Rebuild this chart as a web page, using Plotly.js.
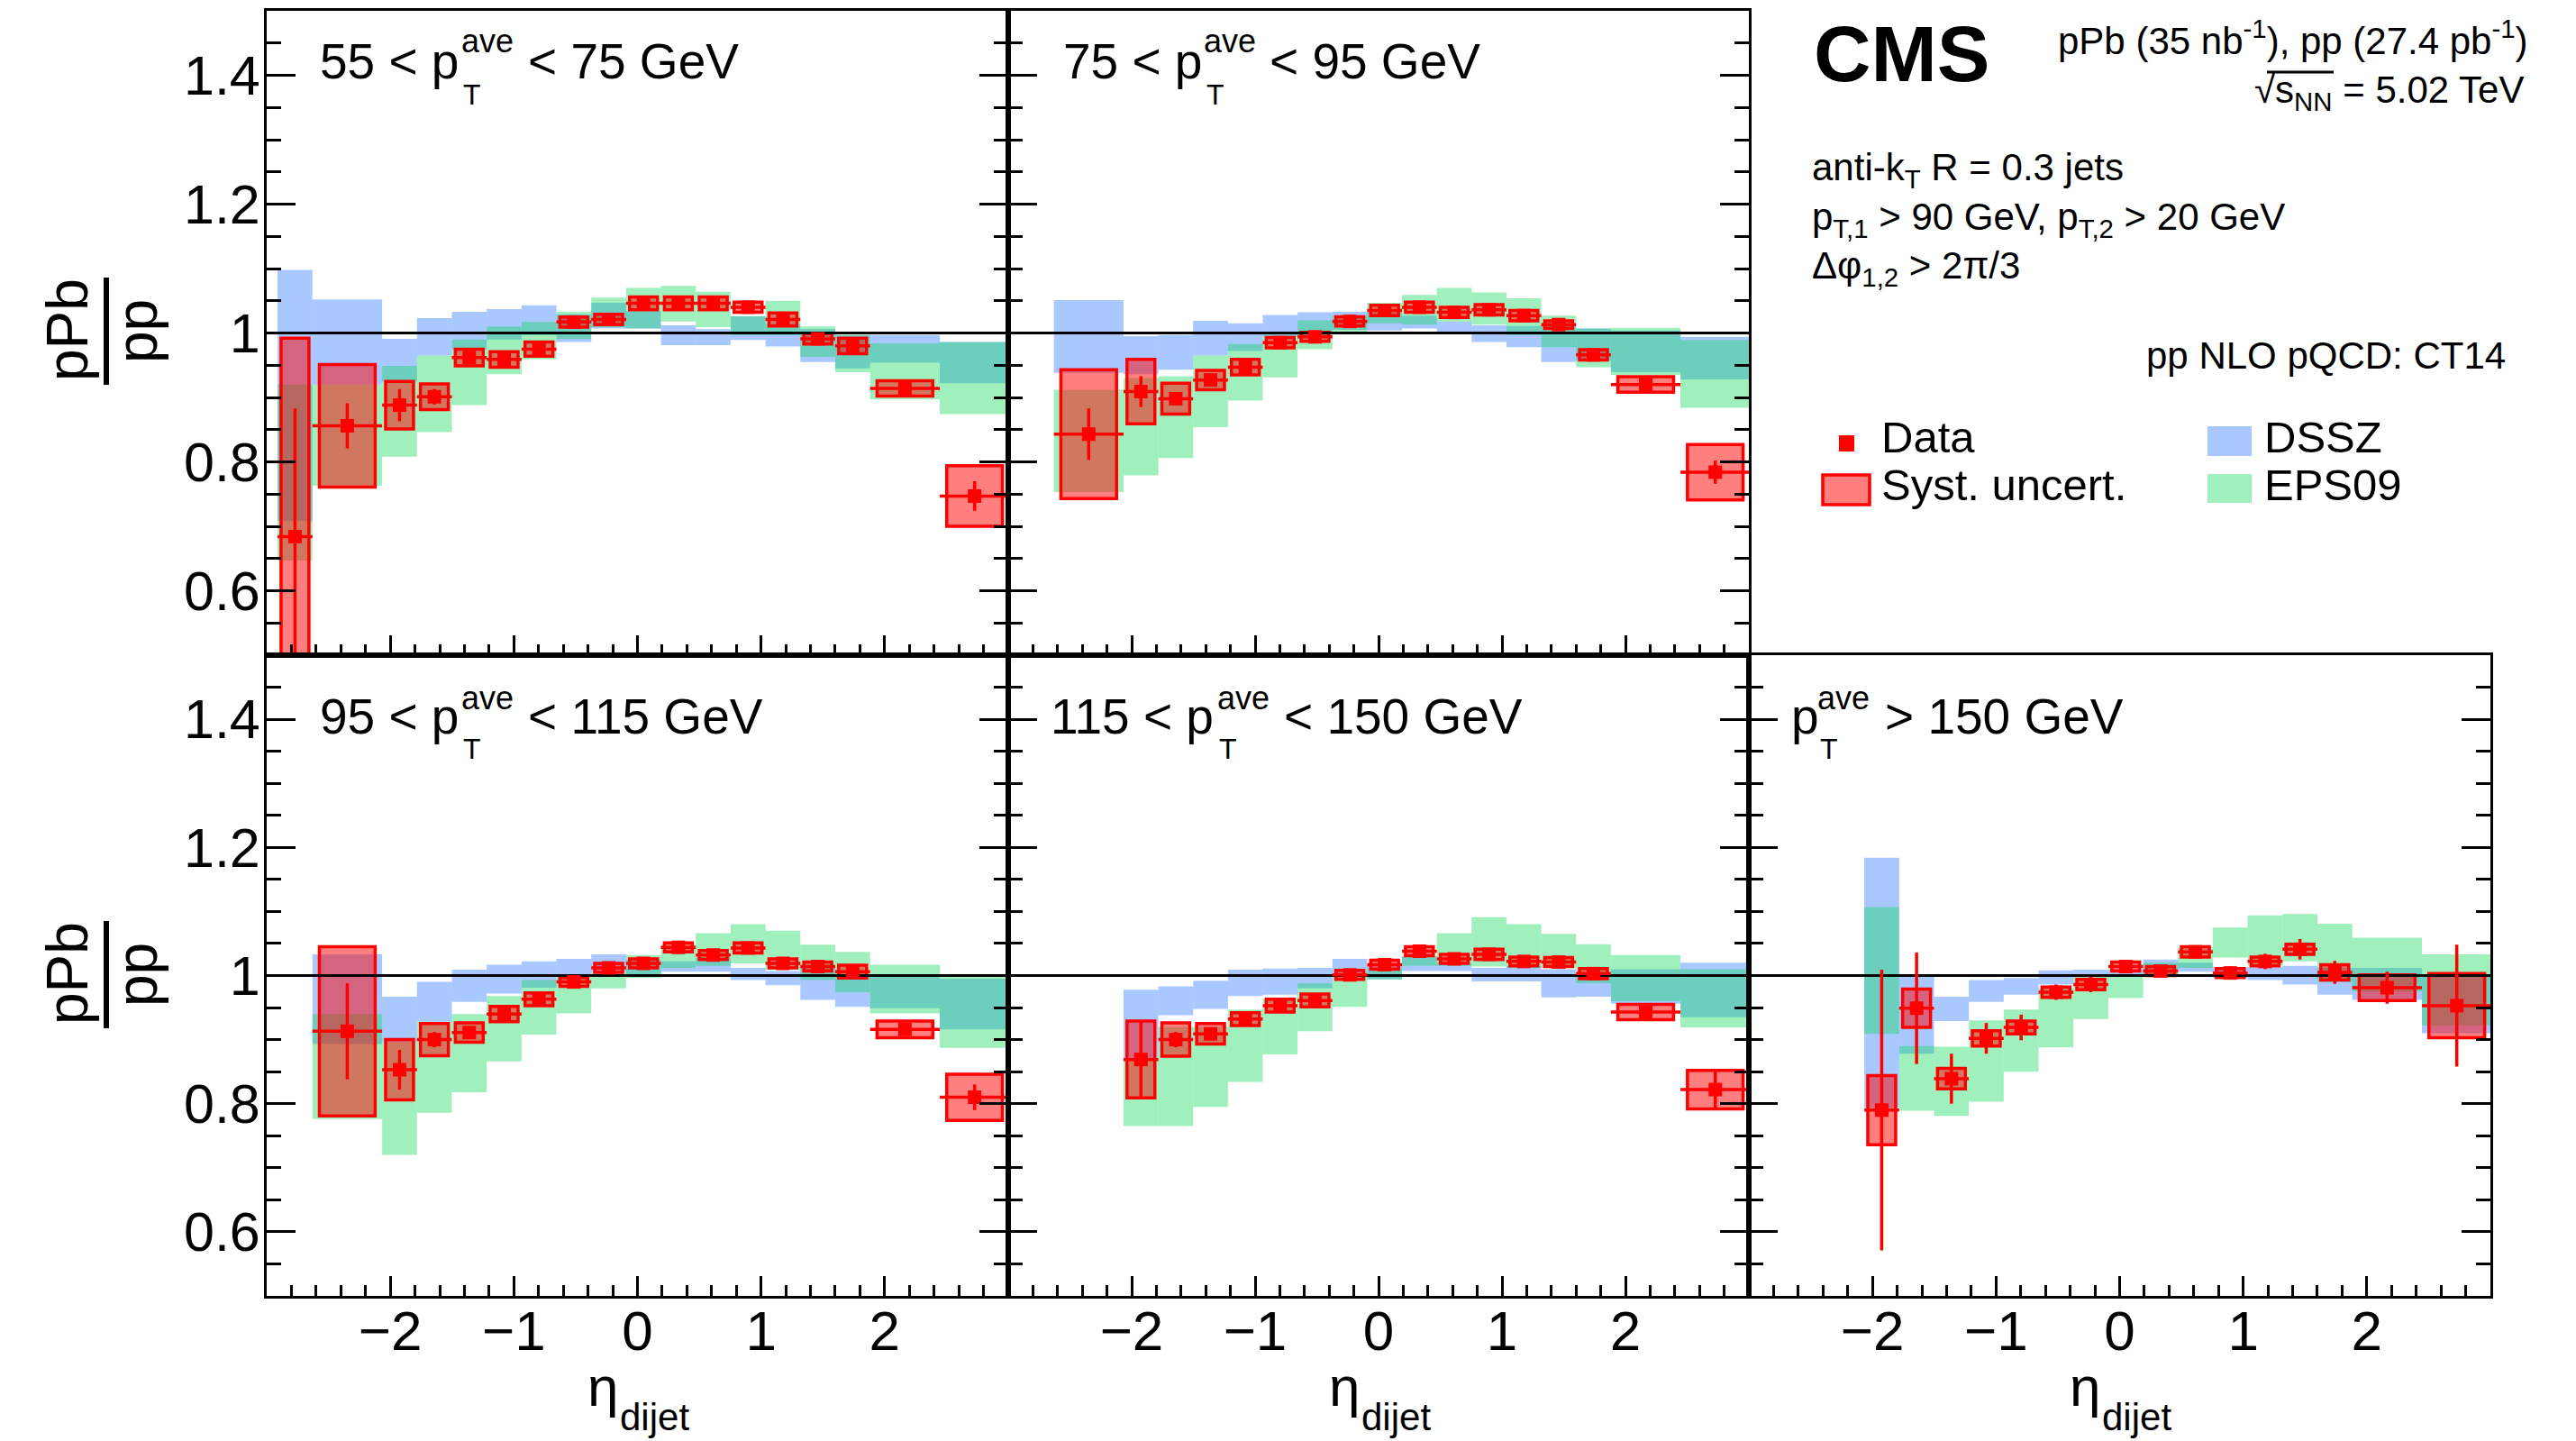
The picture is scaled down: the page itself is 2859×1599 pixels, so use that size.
<!DOCTYPE html>
<html><head><meta charset="utf-8">
<script src="https://cdn.plot.ly/plotly-3.0.1.min.js"></script>
<style>body{margin:0;background:#fff}#chart{width:2859px;height:1599px}</style>
</head><body><div id="chart"></div>
<script>
// ---------------- DATA ----------------
const etaEdges = [-2.912,-2.630,-2.066,-1.784,-1.502,-1.220,-0.938,-0.656,-0.374,-0.092,0.190,0.472,0.754,1.036,1.318,1.600,1.882,2.446,3.010];

const panelLabels = ["55 < p", "75 < p", "95 < p", "115 < p", "p"];
const panelLabelTails = ["< 75 GeV", "< 95 GeV", "< 115 GeV", "< 150 GeV", "> 150 GeV"];
const panelFirstBin = [0, 1, 1, 2, 2];

// 55 < pT < 75
const p1Ratio  = [0.684,0.856,0.888,0.901,0.962,0.959,0.975,1.017,1.021,1.046,1.046,1.046,1.040,1.021,0.991,0.980,0.914,0.747];
const p1Stat   = [0.199,0.035,0.025,0.012,0.008,0.008,0.007,0.006,0.006,0.006,0.006,0.006,0.006,0.006,0.006,0.008,0.007,0.023];
const p1Syst   = [0.308,0.095,0.037,0.020,0.013,0.012,0.011,0.008,0.008,0.010,0.010,0.010,0.008,0.010,0.008,0.012,0.012,0.047];
const p1DsszLo = [0.708,0.920,0.925,0.965,0.975,0.990,0.997,0.986,1.007,1.007,0.981,0.981,0.989,0.979,0.955,0.945,0.954,0.922];
const p1DsszHi = [1.098,1.052,0.991,1.023,1.033,1.037,1.043,1.029,1.047,1.034,1.012,1.006,1.026,1.014,1.006,0.997,0.997,0.986];
const p1EpsLo  = [0.647,0.763,0.808,0.846,0.888,0.936,0.959,0.991,1.009,1.007,1.018,1.009,0.997,0.997,0.963,0.939,0.897,0.874];
const p1EpsHi  = [0.920,0.920,0.949,0.965,0.990,1.010,1.017,1.033,1.055,1.070,1.073,1.064,1.026,1.050,1.010,0.997,0.984,0.986];

// 75 < pT < 95
const p2Ratio  = [0.843,0.909,0.898,0.927,0.947,0.985,0.994,1.018,1.035,1.040,1.032,1.036,1.027,1.013,0.966,0.920,0.784];
const p2Stat   = [0.040,0.024,0.010,0.008,0.007,0.006,0.006,0.006,0.006,0.006,0.006,0.006,0.006,0.006,0.006,0.006,0.018];
const p2Syst   = [0.100,0.050,0.024,0.015,0.012,0.008,0.007,0.007,0.008,0.008,0.008,0.008,0.008,0.006,0.008,0.012,0.043];
const p2DsszLo = [0.938,0.936,0.943,0.965,0.972,0.995,0.997,1.005,1.004,1.007,1.000,0.986,0.978,0.955,0.957,0.939,0.928];
const p2DsszHi = [1.051,0.995,0.997,1.019,1.015,1.028,1.032,1.033,1.032,1.027,1.018,1.012,1.011,1.011,1.007,1.004,0.994];
const p2EpsLo  = [0.753,0.779,0.806,0.854,0.895,0.931,0.975,1.000,1.015,1.013,1.018,1.013,0.997,0.978,0.947,0.935,0.884];
const p2EpsHi  = [0.912,0.930,0.933,0.965,0.983,0.997,1.020,1.027,1.047,1.059,1.070,1.063,1.054,1.027,1.007,1.008,0.989];

// 95 < pT < 115
const p3Ratio  = [0.913,0.853,0.900,0.911,0.940,0.963,0.990,1.012,1.019,1.044,1.032,1.043,1.019,1.014,1.006,0.916,0.810];
const p3Stat   = [0.075,0.031,0.012,0.008,0.007,0.007,0.006,0.006,0.006,0.006,0.006,0.006,0.006,0.006,0.006,0.006,0.020];
const p3Syst   = [0.132,0.047,0.025,0.015,0.012,0.010,0.007,0.007,0.007,0.007,0.007,0.008,0.007,0.007,0.010,0.013,0.036];
const p3DsszLo = [0.893,0.896,0.928,0.959,0.972,0.981,1.000,1.006,1.000,1.006,1.006,0.993,0.985,0.962,0.951,0.949,0.916];
const p3DsszHi = [1.033,0.967,0.990,1.009,1.017,1.022,1.026,1.033,1.025,1.022,1.028,1.012,1.007,1.012,0.998,1.000,0.995];
const p3EpsLo  = [0.776,0.720,0.786,0.818,0.866,0.908,0.941,0.980,0.996,1.012,1.015,1.019,1.009,0.993,0.974,0.941,0.887];
const p3EpsHi  = [0.940,0.896,0.928,0.940,0.968,0.993,1.000,1.006,1.032,1.048,1.066,1.080,1.070,1.048,1.037,1.017,0.998];

// 115 < pT < 150
const p4Ratio  = [0.869,0.900,0.909,0.932,0.953,0.961,1.001,1.017,1.038,1.026,1.033,1.022,1.021,1.003,0.943,0.822];
const p4Stat   = [0.060,0.012,0.010,0.008,0.007,0.007,0.006,0.006,0.006,0.006,0.006,0.006,0.006,0.006,0.006,0.030];
const p4Syst   = [0.060,0.026,0.016,0.010,0.010,0.010,0.007,0.007,0.007,0.007,0.008,0.007,0.007,0.008,0.012,0.030];
const p4DsszLo = [0.870,0.938,0.948,0.968,0.970,0.980,1.000,0.994,1.007,1.007,0.991,0.991,0.966,0.967,0.956,0.935];
const p4DsszHi = [0.978,0.983,0.992,1.009,1.011,1.012,1.026,1.015,1.030,1.020,1.012,1.015,1.010,1.000,1.010,1.020];
const p4EpsLo  = [0.765,0.765,0.795,0.834,0.877,0.913,0.951,0.994,1.015,1.015,1.014,1.012,1.012,0.988,0.960,0.919];
const p4EpsHi  = [0.870,0.920,0.920,0.947,0.964,0.988,1.000,1.012,1.030,1.066,1.091,1.080,1.065,1.049,1.032,1.010];

// pT > 150
const p5Ratio  = [0.790,0.949,0.839,0.902,0.919,0.974,0.986,1.014,1.007,1.037,1.004,1.022,1.041,1.005,0.981,0.953];
const p5Stat   = [0.219,0.087,0.039,0.024,0.020,0.012,0.012,0.010,0.010,0.010,0.010,0.012,0.016,0.018,0.025,0.095];
const p5Syst   = [0.054,0.030,0.016,0.012,0.010,0.008,0.008,0.007,0.007,0.008,0.007,0.007,0.008,0.012,0.020,0.050];
const p5DsszLo = [0.794,0.878,0.929,0.959,0.970,0.986,0.999,1.000,1.000,1.006,0.996,0.993,0.986,0.970,0.962,0.910];
const p5DsszHi = [1.184,1.000,0.967,0.993,0.996,1.008,1.009,1.010,1.025,1.020,1.013,1.013,1.015,1.012,1.012,1.000];
const p5EpsLo  = [0.909,0.789,0.781,0.803,0.850,0.888,0.932,0.965,1.000,1.012,1.028,1.015,1.022,0.990,0.975,0.922];
const p5EpsHi  = [1.107,0.890,0.889,0.930,0.947,0.980,0.999,1.000,1.020,1.044,1.075,1.094,1.096,1.081,1.059,1.033];

const yTickVals = [0.6, 0.8, 1, 1.2, 1.4];
const xTickVals = [-2, -1, 0, 1, 2];

// ---------------- STYLE ----------------
const W = 2859, H = 1599;
const FONT = 'Liberation Sans, Arial, Helvetica, sans-serif';
const DSSZ_COL = 'rgba(40,118,255,0.4)';
const EPS_COL = 'rgba(18,217,92,0.4)';
const SYST_COL = 'rgba(255,0,0,0.5)';
const px = v => v / W;
const py = v => 1 - v / H;

const xDom = [[296/W, 1119/W], [1119/W, 1941/W], [1941/W, 2764/W]];
const yTop = [1 - 727/H, 1 - 12/H];
const yBot = [1 - 1438/H, 1 - 727/H];

const panels = [
  {ratio:p1Ratio, stat:p1Stat, syst:p1Syst, dLo:p1DsszLo, dHi:p1DsszHi, eLo:p1EpsLo, eHi:p1EpsHi},
  {ratio:p2Ratio, stat:p2Stat, syst:p2Syst, dLo:p2DsszLo, dHi:p2DsszHi, eLo:p2EpsLo, eHi:p2EpsHi},
  {ratio:p3Ratio, stat:p3Stat, syst:p3Syst, dLo:p3DsszLo, dHi:p3DsszHi, eLo:p3EpsLo, eHi:p3EpsHi},
  {ratio:p4Ratio, stat:p4Stat, syst:p4Syst, dLo:p4DsszLo, dHi:p4DsszHi, eLo:p4EpsLo, eHi:p4EpsHi},
  {ratio:p5Ratio, stat:p5Stat, syst:p5Syst, dLo:p5DsszLo, dHi:p5DsszHi, eLo:p5EpsLo, eHi:p5EpsHi}
];

const traces = [];
panels.forEach((p, k) => {
  const idx = k + 1;
  const xa = 'x' + (idx === 1 ? '' : idx), ya = 'y' + (idx === 1 ? '' : idx);
  const fb = panelFirstBin[k];
  const centers = [], widths = [], half = [], boxW = [];
  for (let i = 0; i < p.ratio.length; i++) {
    const a = etaEdges[fb + i], b = etaEdges[fb + i + 1];
    centers.push((a + b) / 2); widths.push(b - a); half.push((b - a) / 2); boxW.push(0.8 * (b - a));
  }
  const common = {xaxis: xa, yaxis: ya, showlegend: false, hoverinfo: 'skip'};
  traces.push(Object.assign({type:'bar', x:centers, base:p.dLo, y:p.dHi.map((h,i)=>h-p.dLo[i]), width:widths,
    marker:{color:DSSZ_COL, line:{width:0}}}, common));
  traces.push(Object.assign({type:'bar', x:centers, base:p.eLo, y:p.eHi.map((h,i)=>h-p.eLo[i]), width:widths,
    marker:{color:EPS_COL, line:{width:0}}}, common));
  traces.push(Object.assign({type:'bar', x:centers, base:p.ratio.map((r,i)=>r-p.syst[i]), y:p.syst.map(s=>2*s), width:boxW,
    marker:{color:SYST_COL, line:{width:3.5, color:'#ff0000'}}}, common));
  traces.push(Object.assign({type:'scatter', mode:'lines', x:[-3, 3], y:[1, 1], line:{color:'black', width:3}}, common));
  traces.push(Object.assign({type:'scatter', mode:'markers', x:centers, y:p.ratio,
    marker:{symbol:'square', size:15, color:'#ff0000', line:{width:0}},
    error_y:{type:'data', array:p.stat, visible:true, width:0, thickness:3.5, color:'#ff0000'},
    error_x:{type:'data', array:half, visible:true, width:0, thickness:3.5, color:'#ff0000'}}, common));
});

function xAxis(dom, anchor, labels) {
  return {domain:dom, anchor:anchor, range:[-3,3], tickmode:'array', tickvals:xTickVals,
    ticks:'inside', ticklen:22, tickwidth:3, tickcolor:'black',
    showticklabels:labels, tickfont:{size:62, family:FONT, color:'black'}, ticklabelstandoff:-17,
    showline:true, linewidth:3, linecolor:'black', mirror:true, showgrid:false, zeroline:false, fixedrange:true,
    minor:{tickmode:'linear', tick0:-3, dtick:0.2, ticks:'inside', ticklen:12, tickwidth:3, tickcolor:'black', showgrid:false}};
}
function yAxis(dom, anchor, labels) {
  return {domain:dom, anchor:anchor, range:[0.5,1.5], tickmode:'array', tickvals:yTickVals,
    ticks:'inside', ticklen:32, tickwidth:3, tickcolor:'black',
    showticklabels:labels, tickfont:{size:61, family:FONT, color:'black'}, ticklabelstandoff:-8,
    showline:true, linewidth:3, linecolor:'black', mirror:'ticks', showgrid:false, zeroline:false, fixedrange:true,
    minor:{tickmode:'linear', tick0:0.5, dtick:0.05, ticks:'inside', ticklen:16, tickwidth:3, tickcolor:'black', showgrid:false}};
}

const annotations = [];
function ann(text, x, y, size, xanchor, extra) {
  annotations.push(Object.assign({xref:'paper', yref:'paper', x:px(x), y:py(y), text:text, showarrow:false,
    xanchor:xanchor || 'left', yanchor:'middle', font:{size:size, family:FONT, color:'black'}}, extra || {}));
}

// panel labels: [mainLeft, aveLeft, tLeft, tailLeft, row]
const labelPos = [
  [353, 510, 512, 584, 0],
  [1178, 1334, 1337, 1407, 0],
  [353, 510, 512, 584, 1],
  [1164, 1349, 1351, 1423, 1],
  [1986, 2015, 2018, 2090, 1]
];
labelPos.forEach((lp, k) => {
  const row = lp[4];
  const mainY = row ? 795 : 68;
  const aveY = row ? 774 : 45;
  const tY = row ? 831 : 105;
  ann(panelLabels[k], lp[0], mainY, 55);
  ann('ave', lp[1], aveY, 36);
  ann('T', lp[2], tY, 32);
  ann(panelLabelTails[k], lp[3], mainY, 55);
});

// y axis titles (fraction pPb / pp)
[366, 1080].forEach(cy => {
  ann('pPb', 75, cy, 64, 'center', {textangle:-90});
  ann('pp', 152, cy + 2, 64, 'center', {textangle:-90});
});
// x axis titles
[707.5, 1530, 2352.5].forEach(cx => {
  ann('η', cx - 57.5, 1538, 62);
  ann('dijet', cx - 21.5, 1572, 42);
});

// right-side texts
ann('<b>CMS</b>', 2011, 60, 88);
ann('pPb (35 nb<sup>-1</sup>), pp (27.4 pb<sup>-1</sup>)', 2808, 42, 42, 'right');
ann('√s<sub>NN</sub> = 5.02 TeV', 2803, 102, 42, 'right');
ann('anti-k<sub>T</sub> R = 0.3 jets', 2009, 188, 42);
ann('p<sub>T,1</sub> > 90 GeV, p<sub>T,2</sub> > 20 GeV', 2009, 243, 42);
ann('Δφ<sub>1,2</sub> > 2π/3', 2009, 298, 42);
ann('pp NLO pQCD: CT14', 2783, 394, 42, 'right');
ann('Data', 2086, 485, 49);
ann('Syst. uncert.', 2086, 538, 49);
ann('DSSZ', 2511, 485, 49);
ann('EPS09', 2511, 538, 49);

const shapes = [];
function rect(x0, y0, x1, y1, fill, lineW, lineC) {
  shapes.push({type:'rect', xref:'paper', yref:'paper', x0:px(x0), x1:px(x1), y0:py(y1), y1:py(y0),
    fillcolor:fill, line:{width:lineW || 0, color:lineC || 'rgba(0,0,0,0)'}});
}
function line(x0, y0, x1, y1, w) {
  shapes.push({type:'line', xref:'paper', yref:'paper', x0:px(x0), x1:px(x1), y0:py(y0), y1:py(y1), line:{width:w, color:'black'}});
}
line(118, 308, 118, 427, 6);
line(118, 1022, 118, 1141, 6);
line(2516, 80, 2590, 80, 3);
rect(2041, 483, 2058, 501, '#ff0000');
rect(2023, 527, 2075, 560, SYST_COL, 3.5, '#ff0000');
rect(2450, 473, 2499, 506, DSSZ_COL);
rect(2450, 526, 2499, 558, EPS_COL);

const layout = {
  width:W, height:H, margin:{l:0, r:0, t:0, b:0}, paper_bgcolor:'white', plot_bgcolor:'white',
  showlegend:false, barmode:'overlay', font:{family:FONT, color:'black'},
  xaxis: xAxis(xDom[0], 'y', false),  yaxis: yAxis(yTop, 'x', true),
  xaxis2: xAxis(xDom[1], 'y2', false), yaxis2: yAxis(yTop, 'x2', false),
  xaxis3: xAxis(xDom[0], 'y3', true),  yaxis3: yAxis(yBot, 'x3', true),
  xaxis4: xAxis(xDom[1], 'y4', true),  yaxis4: yAxis(yBot, 'x4', false),
  xaxis5: xAxis(xDom[2], 'y5', true),  yaxis5: yAxis(yBot, 'x5', false),
  annotations:annotations, shapes:shapes
};
Plotly.newPlot('chart', traces, layout, {staticPlot:true, displayModeBar:false});
</script>
</body></html>
